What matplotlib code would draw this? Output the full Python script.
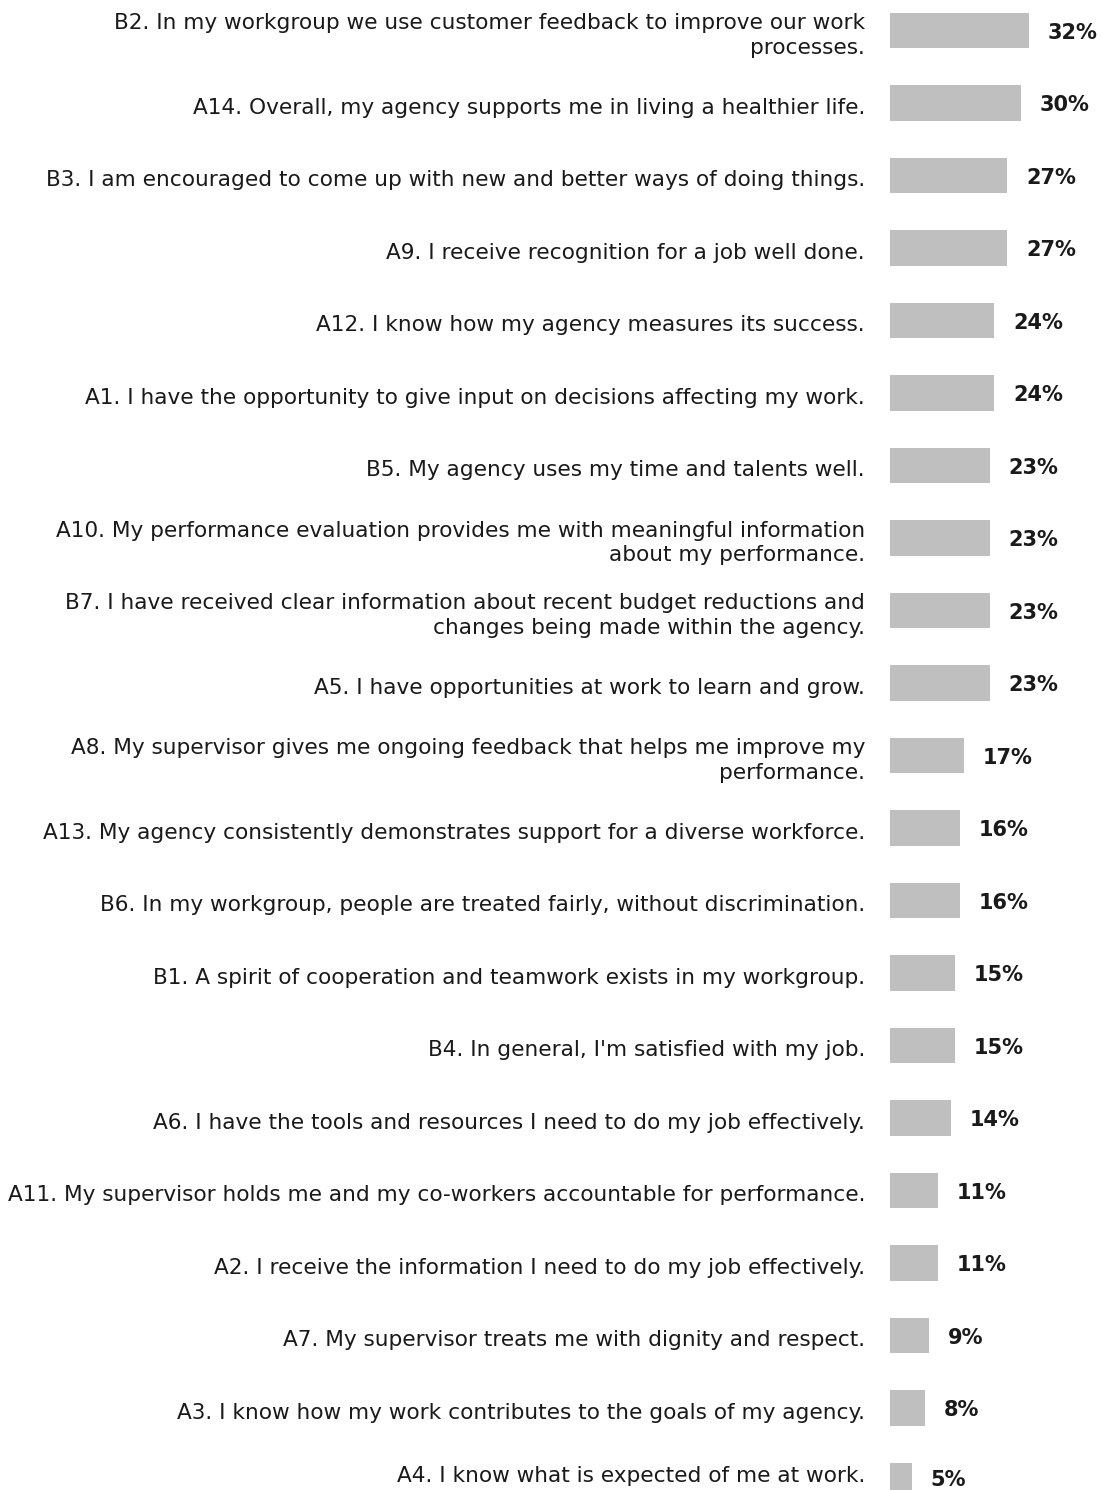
import matplotlib.pyplot as plt

# survey items, top to bottom, with their percentages
items = [
    "B2. In my workgroup we use customer feedback to improve our work\nprocesses.",
    "A14. Overall, my agency supports me in living a healthier life.",
    "B3. I am encouraged to come up with new and better ways of doing things.",
    "A9. I receive recognition for a job well done.",
    "A12. I know how my agency measures its success.",
    "A1. I have the opportunity to give input on decisions affecting my work.",
    "B5. My agency uses my time and talents well.",
    "A10. My performance evaluation provides me with meaningful information\nabout my performance.",
    "B7. I have received clear information about recent budget reductions and\nchanges being made within the agency.",
    "A5. I have opportunities at work to learn and grow.",
    "A8. My supervisor gives me ongoing feedback that helps me improve my\nperformance.",
    "A13. My agency consistently demonstrates support for a diverse workforce.",
    "B6. In my workgroup, people are treated fairly, without discrimination.",
    "B1. A spirit of cooperation and teamwork exists in my workgroup.",
    "B4. In general, I'm satisfied with my job.",
    "A6. I have the tools and resources I need to do my job effectively.",
    "A11. My supervisor holds me and my co-workers accountable for performance.",
    "A2. I receive the information I need to do my job effectively.",
    "A7. My supervisor treats me with dignity and respect.",
    "A3. I know how my work contributes to the goals of my agency.",
    "A4. I know what is expected of me at work.",
]
values = [32, 30, 27, 27, 24, 24, 23, 23, 23, 23, 17, 16, 16, 15, 15, 14, 11, 11, 9, 8, 5]

W, H, DPI = 1102, 1490, 100
bar_x0 = 890          # pixel where bars start
px_per_pct = 4.35
row_px = 72.5
first_row = 30.5

fig = plt.figure(figsize=(W / DPI, H / DPI), dpi=DPI)
ax = fig.add_axes([bar_x0 / W, 0, 1 - bar_x0 / W, 1])

ypos = list(range(len(values)))
ax.barh(ypos, values, height=0.49, color="#bfbfbf")

ax.set_xlim(0, (W - bar_x0) / px_per_pct)
ax.set_ylim((H - first_row) / row_px, -first_row / row_px)
ax.axis("off")

txt = "#1a1a1a"
last = len(values) - 1
for i, (lab, v) in enumerate(zip(items, values)):
    # the bottom row is nudged up so its text stays inside the figure
    dy_lab = -3.6 if i < last else 3.0
    dy_val = -1.5 if i < last else 0.5
    ax.annotate(lab, xy=(0, i), xytext=(-18, dy_lab), textcoords="offset points",
                ha="right", va="center", multialignment="right",
                fontsize=15.6, color=txt, linespacing=1.28, annotation_clip=False)
    ax.annotate(f"{v}%", xy=(v, i), xytext=(13.5, dy_val), textcoords="offset points",
                ha="left", va="center", fontsize=15, fontweight="bold",
                color=txt, annotation_clip=False)

fig.savefig("out.png", dpi=DPI)
